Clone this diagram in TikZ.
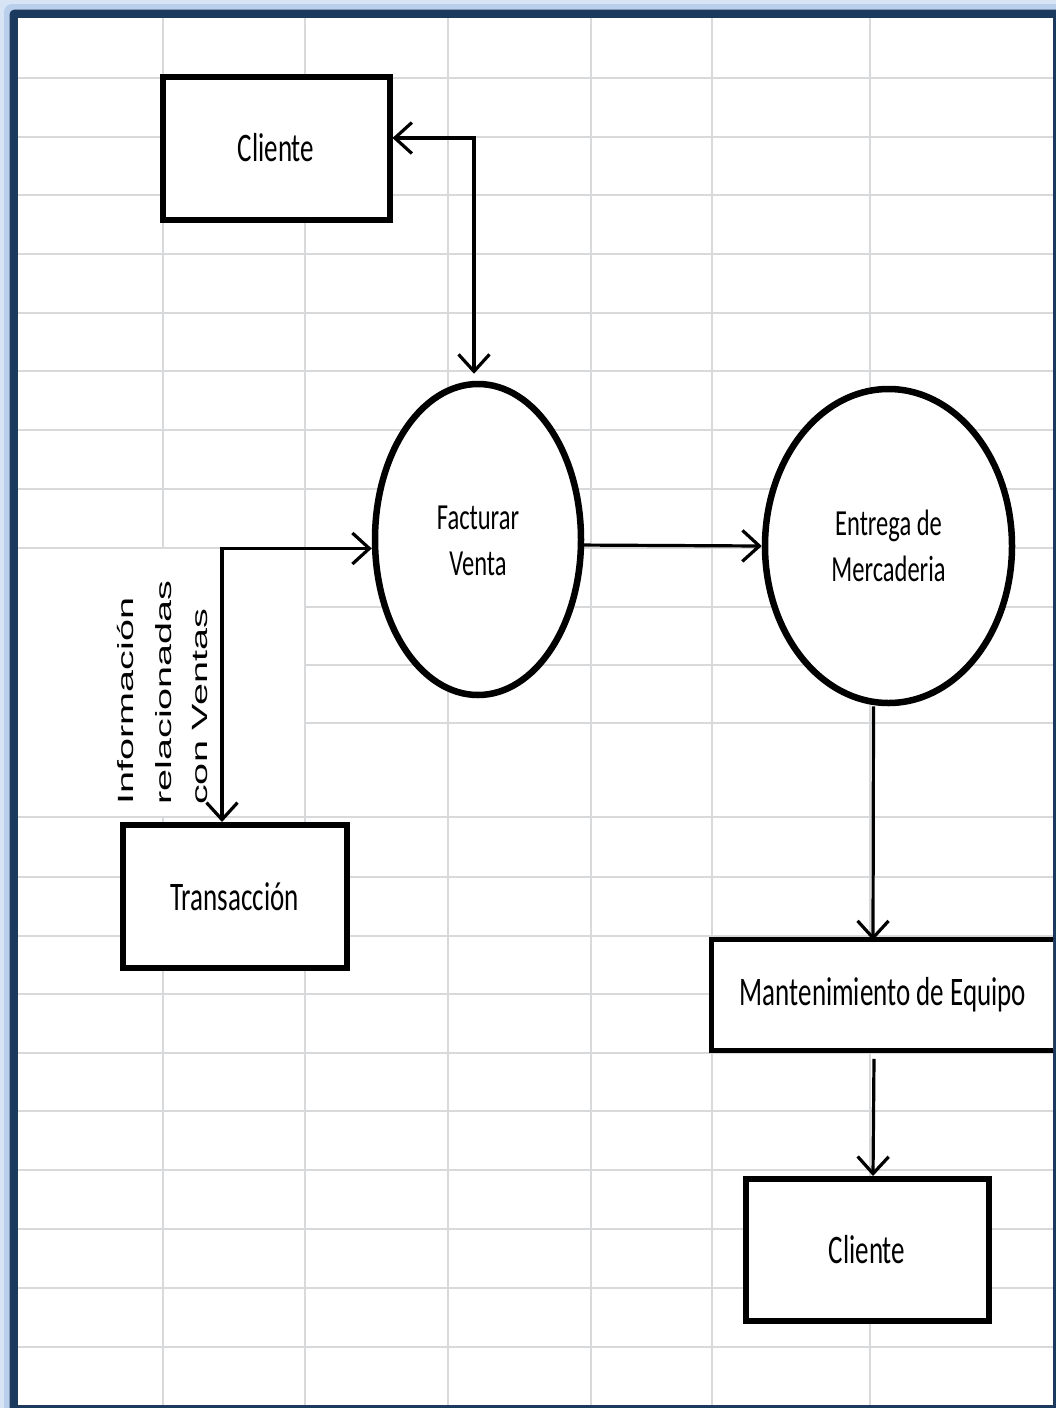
\documentclass[tikz,border=0pt]{standalone}
\usepackage{fontspec}
\usetikzlibrary{arrows.meta,shapes.geometric,calc}
\newfontfamily\boxfont{Carlito}
\newfontfamily\rotfont{Liberation Sans}
\definecolor{framenavy}{RGB}{28,57,94}
\definecolor{glowout}{RGB}{214,228,245}
\definecolor{glowin}{RGB}{186,207,235}
\definecolor{gridgray}{RGB}{216,217,218}
% Calibri-like labels are drawn taller than wide
\newcommand{\tallbox}[1]{\scalebox{1}[1.5]{#1}}
\newcommand{\longline}[1]{\scalebox{1.8}[1]{#1}}
% lower a label inside its shape without changing the shape
\newcommand{\lowered}[2]{\raisebox{-#1}[\height][\depth]{#2}}

\begin{document}
\begin{tikzpicture}[x=1pt,y=-1pt,
  barb/.tip={Straight Barb[length=17pt,width=31pt]},
  box/.style={draw, line width=6pt, fill=white, rectangle, inner sep=0pt,
    font=\boxfont\fontsize{27}{33}\selectfont},
  proc/.style={draw, line width=6.5pt, fill=white, ellipse, inner sep=0pt,
    font=\boxfont\fontsize{24.5}{30.5}\selectfont, align=center},
  flow/.style={line width=3.2pt, line join=miter},
  gridline/.style={gridgray, line width=2pt},
  vlabel/.style={font=\rotfont\fontsize{22}{26}\selectfont, rotate=90,
    anchor=base west, inner sep=0pt}
]
\useasboundingbox (0,0) rectangle (1056,1408);

% window frame with soft blue glow
\fill[glowout] (0,0) rectangle (1056,1408);
\fill[glowin, rounded corners=8pt] (4,4) rectangle (1080,1430);
\fill[framenavy, rounded corners=5pt] (9.5,9.5) rectangle (1075,1425);
\fill[white] (18,18) rectangle (1053,1404.5);

\begin{scope}
\clip (18,18) rectangle (1053,1404.5);

% spreadsheet grid
\foreach \y in {78,137,195,254,313,371,430,489,548,607,665,723,817,877,936,994,1053,1111,1170,1229,1288,1347}
  \draw[gridline] (18,\y) -- (1053,\y);
\foreach \x in {163,305,448,591,712,870}
  \draw[gridline] (\x,18) -- (\x,1404.5);
% merged cells holding the vertical label
\fill[white] (18,549.2) rectangle (303.8,815.8);

% entities and processes
\node[box, minimum width=227pt, minimum height=143pt] (cli1) at (276,148) {\tallbox{Cliente}};
\node[proc, minimum width=206pt, minimum height=311pt] (fac) at (478,539.5)
  {\lowered{4pt}{\tallbox{\begin{tabular}{@{}c@{}}Facturar\\[0pt]Venta\end{tabular}}}};
\node[proc, minimum width=247pt, minimum height=314pt] (ent) at (888.5,546)
  {\lowered{3pt}{\tallbox{\begin{tabular}{@{}c@{}}Entrega de\\[0pt]Mercaderia\end{tabular}}}};
\node[box, minimum width=224pt, minimum height=143pt] (tra) at (234.5,896.5) {\tallbox{Transacción}};
\node[box, line width=5pt, minimum width=344pt, minimum height=110.5pt] (man) at (883,995) {\tallbox{Mantenimiento de Equipo}};
\node[box, minimum width=243pt, minimum height=142pt] (cli2) at (867,1250) {\tallbox{Cliente}};

% vertical label of the data flow
\node[vlabel] (lab1) at (133.5,805) {\longline{Información}};
\node[vlabel] (lab2) at (171,805) {\longline{relacionadas}};
\node[vlabel] (lab3) at (207.5,805) {\longline{con Ventas}};

% data flows
\coordinate (j) at (222,548.5);
\draw[flow, {barb}-{barb}] ([yshift=10pt]cli1.east) -| ([xshift=-4pt,yshift=7pt]fac.north);
\draw[flow, -{barb}] (fac.-3) -- (ent.west);
\draw[flow, {barb}-{barb}] (j -| fac.west) -- (j) -- (j |- tra.north);
\draw[flow, -{barb}] ([xshift=-15pt]ent.south) -- ([xshift=-10pt,yshift=-3pt]man.north);
\draw[flow, -{barb}] ([xshift=-9pt,yshift=-6pt]man.south) -- ([xshift=6pt]cli2.north);
\end{scope}
\end{tikzpicture}
\end{document}
